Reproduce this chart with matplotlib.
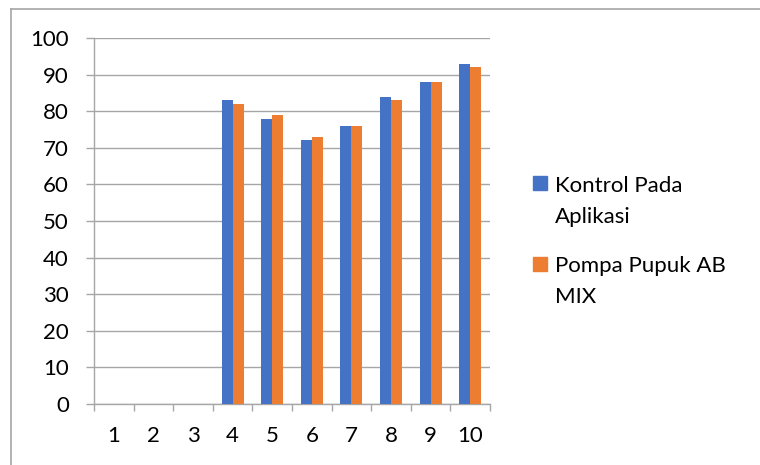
import matplotlib
matplotlib.use("Agg")
import matplotlib.pyplot as plt
from matplotlib.patches import Rectangle
from matplotlib.lines import Line2D
import numpy as np

categories = ["1", "2", "3", "4", "5", "6", "7", "8", "9", "10"]
kontrol = [0, 0, 0, 83, 78, 72, 76, 84, 88, 93]
pompa = [0, 0, 0, 82, 79, 73, 76, 83, 88, 92]
series_names = [["Kontrol Pada", "Aplikasi"], ["Pompa Pupuk AB", "MIX"]]
colors = ["#4472C4", "#ED7D31"]

plt.rcParams['font.family'] = ['Lato', 'DejaVu Sans']
FS = 16

W, H = 760, 465
fig = plt.figure(figsize=(W/100, H/100), dpi=100)

def fx(px):
    return px / W

def fy(py):
    return 1 - py / H

# outer frame (only top and left edges visible)
fig.lines.append(Line2D([fx(11), 1.0], [fy(9), fy(9)], transform=fig.transFigure,
                        color="#a6a6a6", linewidth=1.2))
fig.lines.append(Line2D([fx(11), fx(11)], [fy(9), 0.0], transform=fig.transFigure,
                        color="#a6a6a6", linewidth=1.2))

ax = fig.add_axes([fx(94), fy(404), fx(490 - 94), (404 - 38) / H])
x = np.arange(1, len(categories) + 1)
w = 0.28
ax.bar(x - w/2, kontrol, w, color=colors[0], zorder=3)
ax.bar(x + w/2, pompa, w, color=colors[1], zorder=3)

ax.set_xlim(0.5, len(categories) + 0.5)
ax.set_ylim(0, 100)
ax.set_yticks(np.arange(0, 101, 10))
ax.yaxis.grid(True, color="#a6a6a6", linewidth=1.0, zorder=0)
ax.set_axisbelow(True)

ax.set_xticks(np.arange(0.5, len(categories) + 1, 1))
ax.set_xticklabels([])
ax.set_xticks(x, minor=True)
ax.set_xticklabels(categories, minor=True)
ax.tick_params(axis='x', which='major', length=5, color="#a6a6a6", width=1)
ax.tick_params(axis='x', which='minor', length=0, labelsize=FS, pad=16)
ax.tick_params(axis='y', length=6, color="#a6a6a6", width=1, labelsize=FS, pad=12)

for s in ["top", "right"]:
    ax.spines[s].set_visible(False)
for s in ["left", "bottom"]:
    ax.spines[s].set_color("#a6a6a6")
    ax.spines[s].set_linewidth(1.0)

# legend drawn manually: square aligned with first line of each wrapped label
sq_tops = [176, 257]
baselines = [[192, 223], [272, 303]]
for c, lines, top, bls in zip(colors, series_names, sq_tops, baselines):
    fig.patches.append(Rectangle((fx(533), fy(top + 14)), fx(14), 14 / H,
                                 transform=fig.transFigure, color=c))
    for line, bl in zip(lines, bls):
        fig.text(fx(555), fy(bl), line, fontsize=FS, va="baseline", ha="left")

fig.savefig("out.png", dpi=100)
